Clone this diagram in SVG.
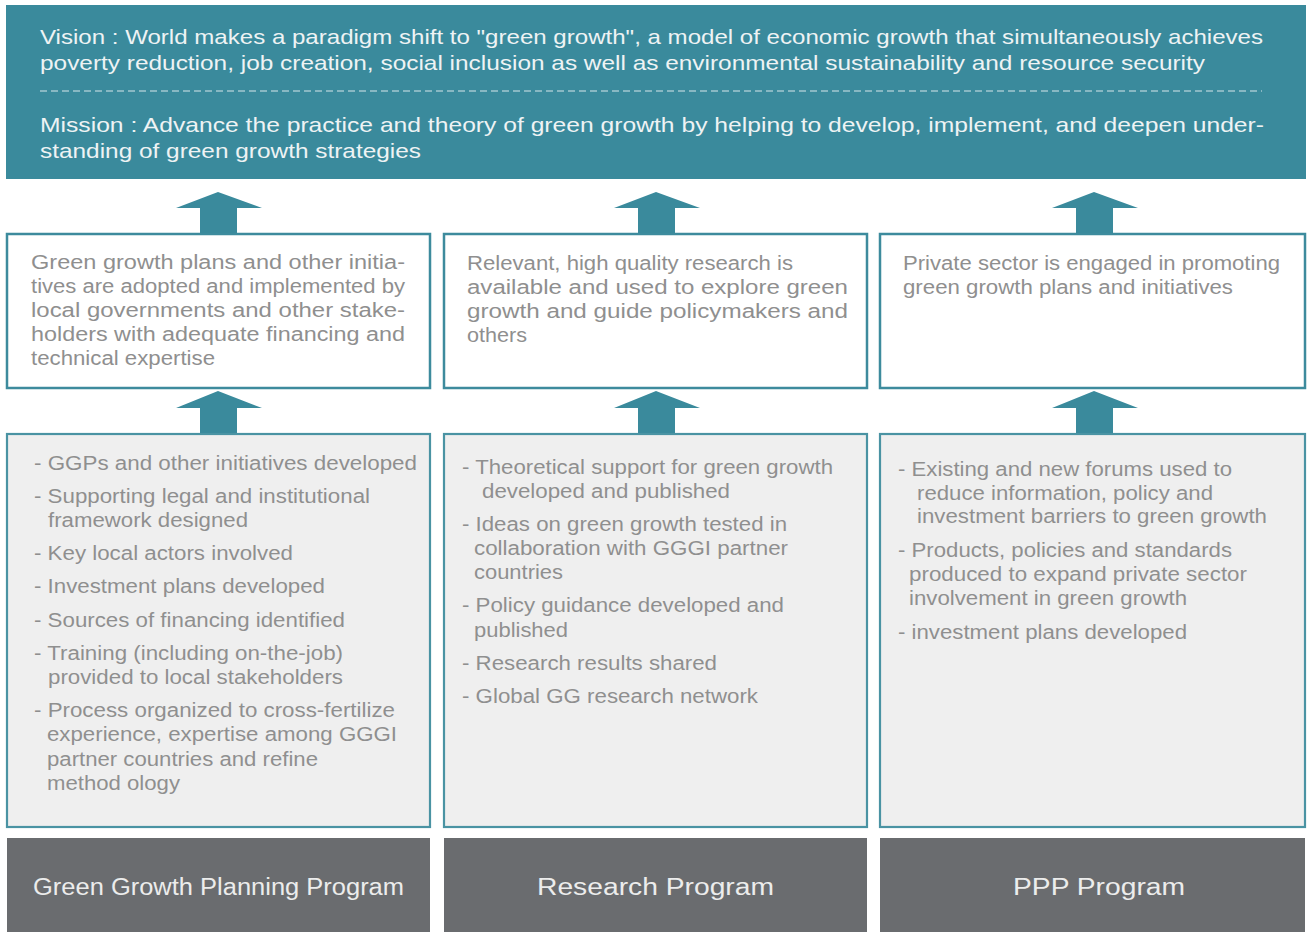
<svg xmlns="http://www.w3.org/2000/svg" width="1309" height="932" viewBox="0 0 1309 932">
  <style>
    .banner { fill: #3a8a9c; }
    .banner-text { font-family: "Liberation Sans", Arial, sans-serif; font-size: 21px; fill: #eef3f4; }
    .divider { stroke: #a3c8d0; stroke-width: 1.3; stroke-dasharray: 7 4; fill: none; }
    .outcome { fill: #ffffff; stroke: #3d8b9d; stroke-width: 2.5; }
    .output { fill: #efefef; stroke: #4a93a3; stroke-width: 2.2; }
    .program { fill: #6a6c6f; }
    .body { font-family: "Liberation Sans", Arial, sans-serif; font-size: 19.5px; fill: #8f8f8f; }
    .label { font-family: "Liberation Sans", Arial, sans-serif; font-size: 23.5px; fill: #ececec; text-anchor: middle; }
    .arrow { fill: #3a8a9c; }
  </style>

  <!-- Vision and mission banner -->
  <g id="vision-mission">
    <rect class="banner" x="6" y="5" width="1300" height="174"/>
    <text class="banner-text" x="40" y="44" textLength="1223" lengthAdjust="spacingAndGlyphs">Vision : World makes a paradigm shift to "green growth", a model of economic growth that simultaneously achieves</text>
    <text class="banner-text" x="40" y="70" textLength="1165" lengthAdjust="spacingAndGlyphs">poverty reduction, job creation, social inclusion as well as environmental sustainability and resource security</text>
    <line class="divider" x1="40" y1="91" x2="1262" y2="91"/>
    <text class="banner-text" x="40" y="132" textLength="1224" lengthAdjust="spacingAndGlyphs">Mission : Advance the practice and theory of green growth by helping to develop, implement, and deepen under-</text>
    <text class="banner-text" x="40" y="158" textLength="381" lengthAdjust="spacingAndGlyphs">standing of green growth strategies</text>
  </g>

  <!-- Block arrows between the tiers -->
  <g id="connectors">
    <polygon class="arrow" points="218,192 262,208 237,208 237,235 200,235 200,208 176,208"/>
    <polygon class="arrow" points="656,192 700,208 675,208 675,235 638,235 638,208 614,208"/>
    <polygon class="arrow" points="1094,192 1138,208 1113,208 1113,235 1076,235 1076,208 1052,208"/>
    <polygon class="arrow" points="218,391 262,408 237,408 237,435 200,435 200,408 176,408"/>
    <polygon class="arrow" points="656,391 700,408 675,408 675,435 638,435 638,408 614,408"/>
    <polygon class="arrow" points="1094,391 1138,408 1113,408 1113,435 1076,435 1076,408 1052,408"/>
  </g>

  <!-- Outcomes -->
  <g id="outcome-planning">
    <rect class="outcome" x="7" y="234" width="423" height="154"/>
    <text class="body" x="31" y="269" textLength="374" lengthAdjust="spacingAndGlyphs">Green growth plans and other initia-</text>
    <text class="body" x="31" y="293" textLength="374" lengthAdjust="spacingAndGlyphs">tives are adopted and implemented by</text>
    <text class="body" x="31" y="317" textLength="374" lengthAdjust="spacingAndGlyphs">local governments and other stake-</text>
    <text class="body" x="31" y="341" textLength="374" lengthAdjust="spacingAndGlyphs">holders with adequate  financing and</text>
    <text class="body" x="31" y="365" textLength="184" lengthAdjust="spacingAndGlyphs">technical expertise</text>
  </g>
  <g id="outcome-research">
    <rect class="outcome" x="444" y="234" width="423" height="154"/>
    <text class="body" x="467" y="270" textLength="326" lengthAdjust="spacingAndGlyphs">Relevant, high quality research is</text>
    <text class="body" x="467" y="294" textLength="381" lengthAdjust="spacingAndGlyphs">available and used to explore green</text>
    <text class="body" x="467" y="318" textLength="381" lengthAdjust="spacingAndGlyphs">growth and guide policymakers and</text>
    <text class="body" x="467" y="342" textLength="60" lengthAdjust="spacingAndGlyphs">others</text>
  </g>
  <g id="outcome-ppp">
    <rect class="outcome" x="880" y="234" width="425" height="154"/>
    <text class="body" x="903" y="270" textLength="377" lengthAdjust="spacingAndGlyphs">Private sector is engaged in promoting</text>
    <text class="body" x="903" y="294" textLength="330" lengthAdjust="spacingAndGlyphs">green growth plans and initiatives</text>
  </g>

  <!-- Outputs -->
  <g id="outputs-planning">
    <rect class="output" x="7" y="434" width="423" height="393"/>
    <text class="body" x="34" y="470" textLength="383" lengthAdjust="spacingAndGlyphs">- GGPs and other initiatives developed</text>
    <text class="body" x="34" y="503" textLength="336" lengthAdjust="spacingAndGlyphs">- Supporting legal and institutional</text>
    <text class="body" x="48" y="527" textLength="200" lengthAdjust="spacingAndGlyphs">framework designed</text>
    <text class="body" x="34" y="560" textLength="259" lengthAdjust="spacingAndGlyphs">- Key local actors involved</text>
    <text class="body" x="34" y="593" textLength="291" lengthAdjust="spacingAndGlyphs">- Investment plans developed</text>
    <text class="body" x="34" y="627" textLength="311" lengthAdjust="spacingAndGlyphs">- Sources of financing identified</text>
    <text class="body" x="34" y="660" textLength="309" lengthAdjust="spacingAndGlyphs">- Training (including on-the-job)</text>
    <text class="body" x="48" y="684" textLength="295" lengthAdjust="spacingAndGlyphs">provided to local stakeholders</text>
    <text class="body" x="34" y="717" textLength="361" lengthAdjust="spacingAndGlyphs">- Process organized to cross-fertilize</text>
    <text class="body" x="47" y="741" textLength="350" lengthAdjust="spacingAndGlyphs">experience, expertise among GGGI</text>
    <text class="body" x="47" y="766" textLength="271" lengthAdjust="spacingAndGlyphs">partner countries and refine</text>
    <text class="body" x="47" y="790" textLength="133" lengthAdjust="spacingAndGlyphs">method ology</text>
  </g>
  <g id="outputs-research">
    <rect class="output" x="444" y="434" width="423" height="393"/>
    <text class="body" x="462" y="474" textLength="371" lengthAdjust="spacingAndGlyphs">- Theoretical support for green growth</text>
    <text class="body" x="482" y="498" textLength="248" lengthAdjust="spacingAndGlyphs">developed and published</text>
    <text class="body" x="462" y="531" textLength="325" lengthAdjust="spacingAndGlyphs">- Ideas on green growth tested in</text>
    <text class="body" x="474" y="555" textLength="314" lengthAdjust="spacingAndGlyphs">collaboration with GGGI partner</text>
    <text class="body" x="474" y="579" textLength="89" lengthAdjust="spacingAndGlyphs">countries</text>
    <text class="body" x="462" y="612" textLength="322" lengthAdjust="spacingAndGlyphs">- Policy guidance developed and</text>
    <text class="body" x="474" y="637" textLength="94" lengthAdjust="spacingAndGlyphs">published</text>
    <text class="body" x="462" y="670" textLength="255" lengthAdjust="spacingAndGlyphs">- Research results shared</text>
    <text class="body" x="462" y="703" textLength="296" lengthAdjust="spacingAndGlyphs">- Global GG research network</text>
  </g>
  <g id="outputs-ppp">
    <rect class="output" x="880" y="434" width="425" height="393"/>
    <text class="body" x="898" y="476" textLength="334" lengthAdjust="spacingAndGlyphs">- Existing and new forums used to</text>
    <text class="body" x="917" y="500" textLength="296" lengthAdjust="spacingAndGlyphs">reduce information, policy and</text>
    <text class="body" x="917" y="523" textLength="350" lengthAdjust="spacingAndGlyphs">investment barriers to green growth</text>
    <text class="body" x="898" y="557" textLength="334" lengthAdjust="spacingAndGlyphs">- Products, policies and standards</text>
    <text class="body" x="909" y="581" textLength="338" lengthAdjust="spacingAndGlyphs">produced to expand private sector</text>
    <text class="body" x="909" y="605" textLength="278" lengthAdjust="spacingAndGlyphs">involvement in green growth</text>
    <text class="body" x="898" y="639" textLength="289" lengthAdjust="spacingAndGlyphs">- investment plans developed</text>
  </g>

  <!-- Programs -->
  <g id="program-planning">
    <rect class="program" x="7" y="838" width="423" height="94"/>
    <text class="label" x="218.5" y="895" textLength="371" lengthAdjust="spacingAndGlyphs">Green Growth Planning Program</text>
  </g>
  <g id="program-research">
    <rect class="program" x="444" y="838" width="423" height="94"/>
    <text class="label" x="655.5" y="895" textLength="237" lengthAdjust="spacingAndGlyphs">Research Program</text>
  </g>
  <g id="program-ppp">
    <rect class="program" x="880" y="838" width="425" height="94"/>
    <text class="label" x="1099" y="895" textLength="172" lengthAdjust="spacingAndGlyphs">PPP Program</text>
  </g>
</svg>
